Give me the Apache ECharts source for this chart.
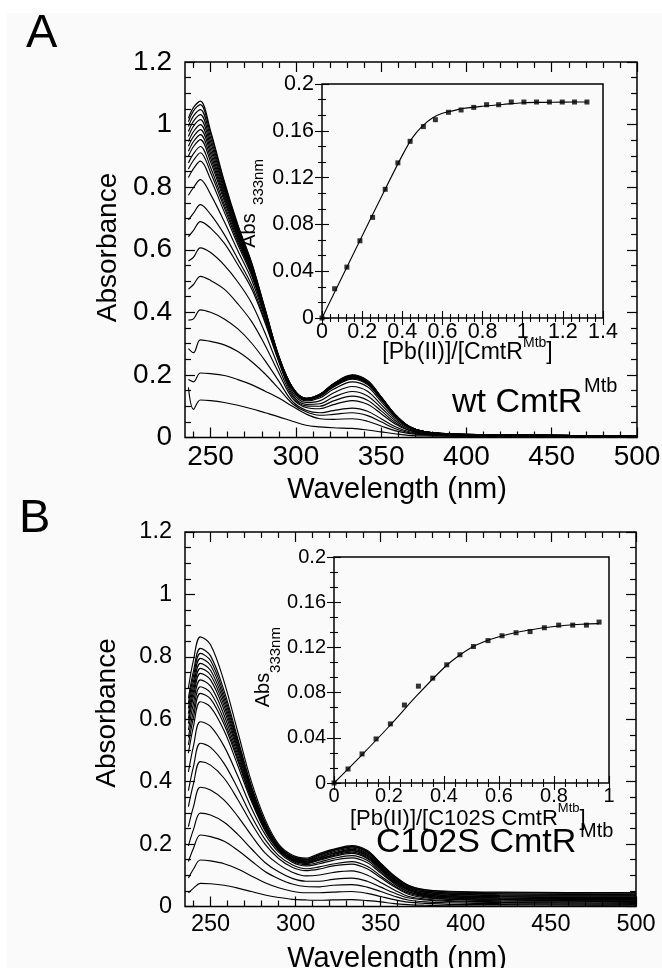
<!DOCTYPE html>
<html>
<head>
<meta charset="utf-8">
<script src="https://cdn.jsdelivr.net/npm/echarts@6.0.0/dist/echarts.min.js"></script>
<style>
html,body{margin:0;padding:0;background:#fafafa;}
#c{width:662px;height:968px;}
</style>
</head>
<body>
<div id="c"></div>
<script>
// ---------- DATA ----------
const wavelengths = [237, 240, 244, 250, 258, 266, 274, 282, 290, 298, 306, 314, 322, 333, 342, 350, 358, 366, 376, 390, 420, 460, 500];

// Panel A : wt CmtR spectra (Pb(II) titration)
const absA01 = [0.16, 0.09, 0.12, 0.118, 0.112, 0.103, 0.092, 0.079, 0.066, 0.052, 0.039, 0.034, 0.031, 0.029, 0.024, 0.018, 0.012, 0.007, 0.005, 0.004, 0.003, 0.002, 0.001];
const absA02 = [0.185, 0.178, 0.206, 0.204, 0.198, 0.185, 0.169, 0.148, 0.126, 0.10, 0.075, 0.06, 0.058, 0.06, 0.052, 0.037, 0.022, 0.013, 0.008, 0.005, 0.003, 0.002, 0.001];
const absA03 = [0.284, 0.271, 0.312, 0.307, 0.296, 0.275, 0.243, 0.203, 0.156, 0.108, 0.082, 0.071, 0.074, 0.079, 0.070, 0.050, 0.029, 0.016, 0.009, 0.006, 0.004, 0.003, 0.002];
const absA04 = [0.375, 0.379, 0.408, 0.400, 0.379, 0.347, 0.302, 0.245, 0.18, 0.115, 0.087, 0.079, 0.086, 0.094, 0.084, 0.060, 0.035, 0.019, 0.010, 0.007, 0.005, 0.003, 0.002];
const absA05 = [0.474, 0.489, 0.515, 0.502, 0.474, 0.427, 0.371, 0.294, 0.206, 0.125, 0.096, 0.092, 0.105, 0.118, 0.106, 0.076, 0.044, 0.023, 0.012, 0.008, 0.005, 0.004, 0.003];
const absA06 = [0.564, 0.576, 0.606, 0.591, 0.551, 0.497, 0.430, 0.333, 0.224, 0.131, 0.101, 0.100, 0.117, 0.132, 0.119, 0.085, 0.049, 0.025, 0.013, 0.008, 0.006, 0.004, 0.003];
const absA07 = [0.642, 0.662, 0.69, 0.669, 0.621, 0.552, 0.476, 0.366, 0.242, 0.137, 0.106, 0.108, 0.129, 0.147, 0.133, 0.095, 0.055, 0.028, 0.014, 0.009, 0.006, 0.004, 0.003];
const absA08 = [0.695, 0.717, 0.744, 0.713, 0.649, 0.570, 0.488, 0.372, 0.245, 0.144, 0.112, 0.117, 0.142, 0.163, 0.148, 0.105, 0.061, 0.031, 0.015, 0.010, 0.007, 0.005, 0.004];
const absA09 = [0.774, 0.799, 0.824, 0.777, 0.690, 0.597, 0.505, 0.381, 0.248, 0.151, 0.117, 0.126, 0.154, 0.178, 0.162, 0.115, 0.067, 0.033, 0.016, 0.010, 0.007, 0.005, 0.004];
const absA10 = [0.831, 0.859, 0.883, 0.825, 0.721, 0.616, 0.518, 0.388, 0.251, 0.154, 0.120, 0.130, 0.161, 0.186, 0.169, 0.121, 0.070, 0.035, 0.017, 0.010, 0.007, 0.005, 0.004];
const absA11 = [0.858, 0.886, 0.91, 0.847, 0.735, 0.625, 0.524, 0.391, 0.252, 0.155, 0.121, 0.132, 0.163, 0.189, 0.172, 0.123, 0.071, 0.035, 0.017, 0.010, 0.007, 0.005, 0.004];
const absA12 = [0.877, 0.907, 0.93, 0.863, 0.745, 0.632, 0.528, 0.393, 0.253, 0.156, 0.122, 0.133, 0.165, 0.191, 0.174, 0.124, 0.072, 0.035, 0.017, 0.010, 0.007, 0.005, 0.004];
const absA13 = [0.899, 0.930, 0.952, 0.881, 0.757, 0.639, 0.533, 0.396, 0.254, 0.157, 0.123, 0.134, 0.166, 0.193, 0.176, 0.125, 0.072, 0.036, 0.018, 0.011, 0.008, 0.006, 0.005];
const absA14 = [0.915, 0.946, 0.968, 0.894, 0.765, 0.644, 0.537, 0.398, 0.255, 0.157, 0.123, 0.135, 0.167, 0.194, 0.176, 0.126, 0.073, 0.036, 0.018, 0.011, 0.008, 0.006, 0.005];
const absA15 = [0.931, 0.962, 0.984, 0.907, 0.773, 0.650, 0.540, 0.400, 0.256, 0.158, 0.123, 0.135, 0.168, 0.195, 0.177, 0.127, 0.073, 0.036, 0.018, 0.011, 0.008, 0.006, 0.005];
const absA16 = [0.946, 0.978, 1.0, 0.919, 0.781, 0.655, 0.544, 0.401, 0.256, 0.158, 0.124, 0.136, 0.169, 0.196, 0.178, 0.127, 0.073, 0.036, 0.018, 0.011, 0.008, 0.006, 0.005];
const absA17 = [0.962, 0.995, 1.016, 0.932, 0.790, 0.660, 0.547, 0.403, 0.257, 0.159, 0.124, 0.136, 0.170, 0.197, 0.179, 0.128, 0.074, 0.036, 0.018, 0.011, 0.008, 0.006, 0.005];
const absA18 = [0.978, 1.011, 1.032, 0.945, 0.798, 0.666, 0.551, 0.405, 0.258, 0.159, 0.124, 0.137, 0.170, 0.198, 0.180, 0.129, 0.074, 0.037, 0.018, 0.012, 0.009, 0.007, 0.006];
const absA19 = [0.994, 1.028, 1.048, 0.958, 0.806, 0.671, 0.554, 0.407, 0.259, 0.160, 0.125, 0.137, 0.171, 0.199, 0.181, 0.129, 0.075, 0.037, 0.018, 0.012, 0.009, 0.007, 0.006];
const absA20 = [1.009, 1.044, 1.064, 0.971, 0.814, 0.676, 0.558, 0.409, 0.260, 0.160, 0.125, 0.138, 0.172, 0.199, 0.181, 0.130, 0.075, 0.037, 0.018, 0.012, 0.009, 0.007, 0.006];
const absA21 = [1.02, 1.055, 1.075, 0.98, 0.82, 0.68, 0.56, 0.41, 0.26, 0.16, 0.125, 0.138, 0.172, 0.2, 0.182, 0.13, 0.075, 0.037, 0.018, 0.012, 0.009, 0.007, 0.006];

// Panel B : C102S CmtR spectra
const absB01 = [0.044, 0.059, 0.074, 0.073, 0.068, 0.059, 0.048, 0.037, 0.029, 0.023, 0.021, 0.020, 0.021, 0.022, 0.019, 0.015, 0.009, 0.006, 0.004, 0.002, 0.001, 0.001, 0.001];
const absB02 = [0.091, 0.120, 0.149, 0.146, 0.137, 0.120, 0.098, 0.076, 0.060, 0.049, 0.044, 0.044, 0.046, 0.048, 0.042, 0.032, 0.022, 0.014, 0.010, 0.007, 0.006, 0.005, 0.004];
const absB03 = [0.144, 0.187, 0.229, 0.224, 0.209, 0.180, 0.146, 0.112, 0.089, 0.072, 0.064, 0.063, 0.068, 0.070, 0.062, 0.048, 0.033, 0.021, 0.015, 0.012, 0.009, 0.008, 0.007];
const absB04 = [0.194, 0.247, 0.299, 0.293, 0.270, 0.231, 0.185, 0.141, 0.111, 0.090, 0.081, 0.081, 0.087, 0.091, 0.081, 0.062, 0.043, 0.028, 0.021, 0.016, 0.013, 0.011, 0.010];
const absB05 = [0.256, 0.320, 0.382, 0.373, 0.341, 0.289, 0.228, 0.172, 0.135, 0.110, 0.098, 0.101, 0.109, 0.114, 0.101, 0.077, 0.053, 0.033, 0.024, 0.019, 0.015, 0.014, 0.013];
const absB06 = [0.320, 0.394, 0.464, 0.453, 0.411, 0.343, 0.267, 0.200, 0.154, 0.126, 0.115, 0.120, 0.130, 0.136, 0.121, 0.092, 0.063, 0.040, 0.028, 0.023, 0.018, 0.017, 0.016];
const absB07 = [0.371, 0.449, 0.523, 0.510, 0.458, 0.378, 0.290, 0.215, 0.163, 0.134, 0.121, 0.127, 0.136, 0.144, 0.129, 0.098, 0.067, 0.043, 0.031, 0.024, 0.021, 0.019, 0.018];
const absB08 = [0.431, 0.515, 0.592, 0.577, 0.513, 0.418, 0.316, 0.232, 0.174, 0.142, 0.130, 0.137, 0.148, 0.156, 0.141, 0.107, 0.073, 0.047, 0.033, 0.027, 0.023, 0.021, 0.020];
const absB09 = [0.491, 0.578, 0.656, 0.639, 0.563, 0.452, 0.337, 0.243, 0.180, 0.146, 0.134, 0.142, 0.154, 0.163, 0.148, 0.112, 0.076, 0.048, 0.035, 0.028, 0.024, 0.023, 0.022];
const absB10 = [0.518, 0.606, 0.683, 0.665, 0.583, 0.467, 0.344, 0.247, 0.183, 0.149, 0.138, 0.148, 0.160, 0.170, 0.154, 0.117, 0.079, 0.052, 0.037, 0.031, 0.027, 0.026, 0.025];
const absB11 = [0.541, 0.628, 0.704, 0.685, 0.597, 0.475, 0.348, 0.249, 0.182, 0.149, 0.138, 0.151, 0.163, 0.174, 0.157, 0.120, 0.081, 0.053, 0.038, 0.032, 0.028, 0.027, 0.026];
const absB12 = [0.565, 0.652, 0.726, 0.706, 0.613, 0.485, 0.353, 0.251, 0.182, 0.150, 0.139, 0.153, 0.166, 0.178, 0.161, 0.123, 0.084, 0.056, 0.041, 0.034, 0.031, 0.029, 0.029];
const absB13 = [0.586, 0.673, 0.747, 0.726, 0.629, 0.496, 0.359, 0.254, 0.184, 0.152, 0.142, 0.156, 0.169, 0.180, 0.164, 0.125, 0.086, 0.057, 0.042, 0.036, 0.032, 0.031, 0.031];
const absB14 = [0.602, 0.689, 0.763, 0.742, 0.642, 0.505, 0.365, 0.258, 0.187, 0.154, 0.144, 0.158, 0.171, 0.183, 0.167, 0.127, 0.088, 0.059, 0.045, 0.039, 0.035, 0.034, 0.034];
const absB15 = [0.618, 0.705, 0.779, 0.757, 0.654, 0.513, 0.370, 0.261, 0.189, 0.155, 0.146, 0.161, 0.175, 0.187, 0.170, 0.131, 0.090, 0.062, 0.046, 0.040, 0.037, 0.036, 0.036];
const absB16 = [0.635, 0.722, 0.795, 0.773, 0.666, 0.522, 0.376, 0.265, 0.191, 0.158, 0.149, 0.164, 0.179, 0.191, 0.175, 0.134, 0.094, 0.064, 0.049, 0.043, 0.040, 0.039, 0.038];
const absB17 = [0.651, 0.739, 0.811, 0.788, 0.678, 0.530, 0.381, 0.268, 0.193, 0.160, 0.150, 0.166, 0.180, 0.192, 0.175, 0.135, 0.095, 0.066, 0.050, 0.044, 0.041, 0.040, 0.040];
const absB18 = [0.667, 0.755, 0.827, 0.803, 0.691, 0.538, 0.386, 0.271, 0.195, 0.161, 0.152, 0.167, 0.181, 0.192, 0.177, 0.137, 0.097, 0.068, 0.053, 0.047, 0.044, 0.043, 0.043];
const absB19 = [0.700, 0.790, 0.864, 0.839, 0.720, 0.560, 0.400, 0.280, 0.200, 0.165, 0.155, 0.170, 0.183, 0.195, 0.180, 0.139, 0.099, 0.069, 0.054, 0.049, 0.046, 0.045, 0.045];

// Insets : Abs333 vs [Pb(II)]/[protein]
const ratioA = [0, 0.063, 0.124, 0.189, 0.252, 0.315, 0.378, 0.439, 0.505, 0.565, 0.63, 0.693, 0.756, 0.82, 0.88, 0.943, 1.006, 1.069, 1.133, 1.197, 1.258, 1.32];
const abs333A = [0, 0.025, 0.0435, 0.066, 0.086, 0.110, 0.1326, 0.151, 0.1636, 0.1695, 0.1758, 0.1778, 0.180, 0.1823, 0.1823, 0.1846, 0.1846, 0.1846, 0.1846, 0.1846, 0.1846, 0.1846];
const fitRatioA = [0, 0.1, 0.2, 0.3, 0.4, 0.45, 0.5, 0.55, 0.6, 0.65, 0.7, 0.8, 0.9, 1.0, 1.1, 1.2, 1.32];
const fitAbsA = [0, 0.035, 0.07, 0.105, 0.139, 0.154, 0.164, 0.171, 0.175, 0.177, 0.179, 0.181, 0.1825, 0.184, 0.1843, 0.1845, 0.1846];

const ratioB = [0, 0.051, 0.102, 0.153, 0.205, 0.256, 0.307, 0.359, 0.41, 0.458, 0.507, 0.56, 0.611, 0.662, 0.713, 0.765, 0.817, 0.868, 0.918, 0.964];
const abs333B = [0, 0.0124, 0.0257, 0.039, 0.0523, 0.069, 0.0857, 0.0928, 0.1046, 0.1135, 0.1208, 0.126, 0.1303, 0.133, 0.134, 0.1374, 0.1397, 0.1397, 0.1397, 0.1424];
const fitRatioB = [0, 0.1, 0.2, 0.3, 0.4, 0.45, 0.5, 0.55, 0.6, 0.65, 0.7, 0.8, 0.9, 0.964];
const fitAbsB = [0, 0.0245, 0.05, 0.077, 0.102, 0.112, 0.12, 0.1255, 0.1295, 0.1325, 0.135, 0.1385, 0.1405, 0.141];

const majorWl = [250, 300, 350, 400, 450, 500];
const minorWl = [240, 260, 270, 280, 290, 310, 320, 330, 340, 360, 370, 380, 390, 410, 420, 430, 440, 460, 470, 480, 490];

const spectraA = [absA01, absA02, absA03, absA04, absA05, absA06, absA07, absA08, absA09, absA10, absA11, absA12, absA13, absA14, absA15, absA16, absA17, absA18, absA19, absA20, absA21];
const spectraB = [absB01, absB02, absB03, absB04, absB05, absB06, absB07, absB08, absB09, absB10, absB11, absB12, absB13, absB14, absB15, absB16, absB17, absB18, absB19];

// ---------- CHART ----------
const F = '"Liberation Sans", Arial, sans-serif';
const K = '#000';

function wlAxis(grid, pos, vals, len, fs) {
  return {
    type: 'value', gridIndex: grid, position: pos, min: 235, max: 500,
    axisLine: { show: false }, splitLine: { show: false },
    axisTick: { show: true, inside: true, length: len, customValues: vals, lineStyle: { color: K, width: 1.2 } },
    axisLabel: fs ? { show: true, customValues: vals, fontSize: fs, color: K, fontFamily: F, margin: 6 } : { show: false }
  };
}
function absAxis(grid, pos, fs) {
  return {
    type: 'value', gridIndex: grid, position: pos, min: 0, max: 1.2, interval: 0.2,
    axisLine: { show: false }, splitLine: { show: false },
    axisTick: { show: true, inside: true, length: 10, lineStyle: { color: K, width: 1.2 } },
    minorTick: { show: true, splitNumber: 4, length: 6, lineStyle: { color: K, width: 1.2 } },
    axisLabel: fs ? { show: true, fontSize: fs, color: K, fontFamily: F, margin: 13, padding: [0, 0, 8, 0] } : { show: false }
  };
}
function ratioAxis(grid, pos, max, fs) {
  return {
    type: 'value', gridIndex: grid, position: pos, min: 0, max: max, interval: 0.2,
    axisLine: { show: false }, splitLine: { show: false },
    axisTick: { show: true, inside: true, length: 7, lineStyle: { color: K, width: 1.1 } },
    minorTick: { show: true, splitNumber: 5, length: 4, lineStyle: { color: K, width: 1.1 } },
    axisLabel: fs ? { show: true, fontSize: fs, color: K, fontFamily: F, margin: 3 } : { show: false }
  };
}
function a333Axis(grid, pos, fs) {
  return {
    type: 'value', gridIndex: grid, position: pos, min: 0, max: 0.2, interval: 0.04,
    axisLine: { show: false }, splitLine: { show: false },
    axisTick: { show: true, inside: true, length: 7, lineStyle: { color: K, width: 1.1 } },
    minorTick: { show: true, splitNumber: 3, length: 4, lineStyle: { color: K, width: 1.1 } },
    axisLabel: fs ? { show: true, fontSize: fs, color: K, fontFamily: F, margin: 8, padding: [0, 0, 8, 0] } : { show: false }
  };
}
const gridStyle = { show: true, borderColor: K, borderWidth: 1.5, backgroundColor: 'transparent', containLabel: false, outerBoundsMode: 'none' };

const series = [];
spectraA.forEach(arr => series.push({
  type: 'line', xAxisIndex: 0, yAxisIndex: 0, showSymbol: false, smooth: 0.35, silent: true,
  lineStyle: { color: K, width: 1.15 }, data: wavelengths.map((w, i) => [w, arr[i]])
}));
spectraB.forEach(arr => series.push({
  type: 'line', xAxisIndex: 6, yAxisIndex: 4, showSymbol: false, smooth: 0.35, silent: true,
  lineStyle: { color: K, width: 1.15 }, data: wavelengths.map((w, i) => [w, arr[i]])
}));
series.push({ type: 'line', xAxisIndex: 4, yAxisIndex: 2, showSymbol: false, smooth: 0.3, lineStyle: { color: K, width: 1.1 },
  data: fitRatioA.map((x, i) => [x, fitAbsA[i]]) });
series.push({ type: 'scatter', xAxisIndex: 4, yAxisIndex: 2, symbol: 'rect', symbolSize: 5, itemStyle: { color: K },
  data: ratioA.map((x, i) => [x, abs333A[i]]) });
series.push({ type: 'line', xAxisIndex: 10, yAxisIndex: 6, showSymbol: false, smooth: 0.3, lineStyle: { color: K, width: 1.1 },
  data: fitRatioB.map((x, i) => [x, fitAbsB[i]]) });
series.push({ type: 'scatter', xAxisIndex: 10, yAxisIndex: 6, symbol: 'rect', symbolSize: 5, itemStyle: { color: K },
  data: ratioB.map((x, i) => [x, abs333B[i]]) });

function txt(x, y, text, fs, align, rot) {
  return { type: 'text', x: x, y: y, rotation: rot || 0, silent: true,
    style: { text: text, fontSize: fs, fontFamily: F, fill: K, align: align || 'left', verticalAlign: 'middle' } };
}

const option = {
  animation: false,
  backgroundColor: '#fafafa',
  grid: [
    Object.assign({ left: 185, top: 62, width: 452, height: 375.5 }, gridStyle),
    Object.assign({ left: 322, top: 84, width: 281, height: 234 }, gridStyle),
    Object.assign({ left: 185, top: 532, width: 451, height: 374.5 }, gridStyle),
    Object.assign({ left: 334, top: 557, width: 275, height: 226 }, gridStyle)
  ],
  xAxis: [
    wlAxis(0, 'bottom', majorWl, 10, 28),
    wlAxis(0, 'bottom', minorWl, 6, 0),
    wlAxis(0, 'top', majorWl, 10, 0),
    wlAxis(0, 'top', minorWl, 6, 0),
    ratioAxis(1, 'bottom', 1.4, 21.5),
    ratioAxis(1, 'top', 1.4, 0),
    wlAxis(2, 'bottom', majorWl, 10, 23.5),
    wlAxis(2, 'bottom', minorWl, 6, 0),
    wlAxis(2, 'top', majorWl, 10, 0),
    wlAxis(2, 'top', minorWl, 6, 0),
    ratioAxis(3, 'bottom', 1, 20),
    ratioAxis(3, 'top', 1, 0)
  ],
  yAxis: [
    absAxis(0, 'left', 28),
    absAxis(0, 'right', 0),
    a333Axis(1, 'left', 21.5),
    a333Axis(1, 'right', 0),
    absAxis(2, 'left', 23.5),
    absAxis(2, 'right', 0),
    a333Axis(3, 'left', 20),
    a333Axis(3, 'right', 0)
  ],
  series: series,
  graphic: [
    { type: 'rect', silent: true, shape: { x: 0, y: 0, width: 662, height: 13 }, style: { fill: '#ffffff' } },
    { type: 'rect', silent: true, shape: { x: 0, y: 0, width: 7, height: 968 }, style: { fill: '#ffffff' } },
    txt(26, 34.4, 'A', 47),
    txt(19, 518.7, 'B', 47),
    txt(108.4, 247.5, 'Absorbance', 28, 'center', Math.PI / 2),
    txt(107, 713, 'Absorbance', 28, 'center', Math.PI / 2),
    txt(397, 489.8, 'Wavelength (nm)', 29, 'center'),
    txt(397, 958.5, 'Wavelength (nm)', 29, 'center'),
    // inset A
    txt(249.1, 230.5, 'Abs', 20, 'center', Math.PI / 2),
    txt(259.1, 182, '333nm', 15, 'center', Math.PI / 2),
    txt(382.3, 352.7, '[Pb(II)]/[CmtR', 23),
    txt(523, 342.7, 'Mtb', 14),
    txt(546.3, 352.7, ']', 23),
    txt(452, 402.8, 'wt CmtR', 34),
    txt(584, 386.1, 'Mtb', 20),
    // inset B
    txt(263.1, 690, 'Abs', 20, 'center', Math.PI / 2),
    txt(276, 650, '333nm', 15, 'center', Math.PI / 2),
    txt(350, 819, '[Pb(II)]/[C102S CmtR', 22),
    txt(557.8, 808.6, 'Mtb', 13),
    txt(579.5, 819, ']', 22),
    txt(376, 842.8, 'C102S CmtR', 34),
    txt(580, 831.1, 'Mtb', 20)
  ]
};

const chart = echarts.init(document.getElementById('c'), null, { renderer: 'canvas', width: 662, height: 968 });
chart.setOption(option);
</script>
</body>
</html>
